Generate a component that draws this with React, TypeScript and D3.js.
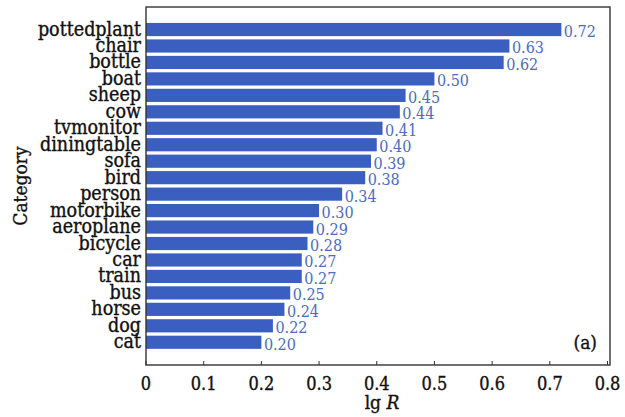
import React from "react";
import * as d3 from "d3";

const categories = ["pottedplant","chair","bottle","boat","sheep","cow","tvmonitor","diningtable","sofa","bird","person","motorbike","aeroplane","bicycle","car","train","bus","horse","dog","cat"];
const values = [0.72,0.63,0.62,0.50,0.45,0.44,0.41,0.40,0.39,0.38,0.34,0.30,0.29,0.28,0.27,0.27,0.25,0.24,0.22,0.20];
const tickValues = [0,0.1,0.2,0.3,0.4,0.5,0.6,0.7,0.8];
const tickLabels = ["0","0.1","0.2","0.3","0.4","0.5","0.6","0.7","0.8"];

const W = 625, H = 417;
const left = 146, right = 610, top = 7, bottom = 365;
const font = "'DejaVu Serif Condensed', 'DejaVu Serif', serif";
const txt = { fontFamily: font, fontStretch: "condensed" as const };
const dark = { ...txt, stroke: "#111", strokeWidth: 0.35 };

export default function App() {
  const x = d3.scaleLinear().domain([0, 0.8]).range([left, 607.5]);
  const y = d3.scaleBand().domain(categories).range([21.3, 350.5]).paddingInner(0.2).paddingOuter(0.1);
  const bw = y.bandwidth();
  return (
    <svg width={W} height={H} style={{ position: "absolute", left: 0, top: 0, background: "#fff" }}>
      <rect x={0} y={0} width={W} height={H} fill="#fff" />
      {categories.map((c, i) => (
        <g key={c}>
          <rect x={x(0)} y={y(c)!} width={x(values[i]) - x(0)} height={bw} fill="#3a5fc1" />
          <text x={x(values[i]) + 2.5} y={y(c)! + bw / 2 + 7.5} style={txt} fontSize={16} fill="#4a6cc4">{values[i].toFixed(2)}</text>
          <text x={left - 5} y={y(c)! + bw / 2 + 6} style={dark} fontSize={19.5} textAnchor="end" fill="#111">{c}</text>
        </g>
      ))}
      <rect x={left} y={top} width={right - left} height={bottom - top} fill="none" stroke="#333" strokeWidth={1.4} />
      {tickValues.map((t, i) => (
        <g key={t}>
          <line x1={x(t)} x2={x(t)} y1={bottom} y2={bottom - 4} stroke="#333" strokeWidth={1} />
          <text x={x(t)} y={390} style={dark} fontSize={18} textAnchor="middle" fill="#111">{tickLabels[i]}</text>
        </g>
      ))}
      <text x={382} y={409} style={dark} fontSize={19} textAnchor="middle" fill="#111">lg <tspan fontStyle="italic">R</tspan></text>
      <text transform={`translate(27,${(top + bottom) / 2}) rotate(-90)`} style={dark} fontSize={19} textAnchor="middle" fill="#111">Category</text>
      <text x={597} y={349} style={dark} fontSize={19} textAnchor="end" fill="#111">(a)</text>
    </svg>
  );
}
